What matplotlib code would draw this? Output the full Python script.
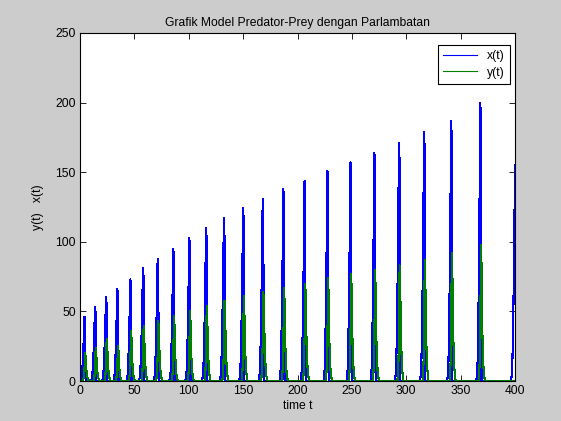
import matplotlib
matplotlib.use("Agg")
import matplotlib.pyplot as plt
import numpy as np

# peak times / heights of the prey spikes x(t)
x_peak_t = [4.1, 13.8, 23.9, 34.3, 46.3, 57.9, 71.4, 85.8, 100.5, 115.9, 132.3,
            150.0, 168.0, 187.0, 206.5, 227.5, 248.7, 270.7, 293.3, 316.4,
            341.3, 368.1, 400.0]
x_peak = [46, 53, 60, 66, 73, 81, 88, 95, 103, 110, 117,
          124, 131, 138, 144, 151, 157, 164, 171, 179,
          187, 200, 155]

# peak times / heights of the predator spikes y(t)
y_peak_t = [4.7, 14.4, 24.5, 34.9, 46.9, 58.5, 72.0, 86.4, 101.1, 116.5, 132.9,
            150.6, 168.6, 187.6, 207.1, 228.1, 249.3, 271.3, 293.9, 317.0,
            341.9, 368.7]
y_peak = [20, 23.5, 30, 25, 36, 39.5, 43, 47, 50, 54, 57.5,
          61, 64, 67, 70, 74, 77, 80, 83, 87, 92, 98]

# shape of one spike (time offset, fraction of the peak)
x_shape_dt = [-3.6, -2.6, -1.7, -0.8, 0.0, 0.5, 1.1]
x_shape_f = [0.0, 0.05, 0.25, 0.6, 1.0, 0.93, 0.0]
y_shape_dt = [-2.0, -1.1, -0.5, 0.0, 0.5, 1.3, 2.3, 3.5]
y_shape_f = [0.0, 0.15, 0.5, 1.0, 0.85, 0.35, 0.1, 0.0]


def spikes(times, heights, dt, frac):
    t = [0.0]
    v = [0.0]
    for tp, h in zip(times, heights):
        for d, f in zip(dt, frac):
            t.append(tp + d)
            v.append(h * f)
    t.append(max(t[-1], 400.0))
    v.append(0.0)
    return np.array(t), np.array(v)


tx, xv = spikes(x_peak_t, x_peak, x_shape_dt, x_shape_f)
ty, yv = spikes(y_peak_t, y_peak, y_shape_dt, y_shape_f)

plt.rcParams['font.family'] = ['Liberation Sans', 'DejaVu Sans']
fs = 8.7

fig = plt.figure(figsize=(5.61, 4.21), dpi=100, facecolor='#cccccc')
ax = fig.add_axes([80 / 561, 40 / 421, 435 / 561, 348 / 421])
ax.set_facecolor('white')

ax.plot(tx, xv, color='#0000ff', lw=0.8, antialiased=False, label='x(t)')
ax.plot(ty, yv, color='#008000', lw=0.8, antialiased=False, label='y(t)')

ax.set_xlim(0, 400)
ax.set_ylim(0, 250)
ax.set_xticks(np.arange(0, 401, 50))
ax.set_yticks(np.arange(0, 251, 50))
ax.tick_params(direction='in', length=4, width=0.6, top=True, right=True,
               labelsize=fs, pad=3)
for s in ax.spines.values():
    s.set_linewidth(0.8)

ax.set_title('Grafik Model Predator-Prey dengan Parlambatan', fontsize=fs, pad=5)
ax.set_xlabel('time t', fontsize=fs, labelpad=2)
ax.set_ylabel('y(t)   x(t)', fontsize=fs, labelpad=8)

leg = ax.legend(loc='upper right', fontsize=fs, frameon=True, fancybox=False,
                edgecolor='black', framealpha=1,
                bbox_to_anchor=(510 / 561, 1 - 45 / 421),
                bbox_transform=fig.transFigure, borderaxespad=0,
                handlelength=2.8, handletextpad=0.8, borderpad=0.45,
                labelspacing=0.35)
leg.get_frame().set_linewidth(0.8)

fig.savefig('out.png', dpi=100, facecolor=fig.get_facecolor())
